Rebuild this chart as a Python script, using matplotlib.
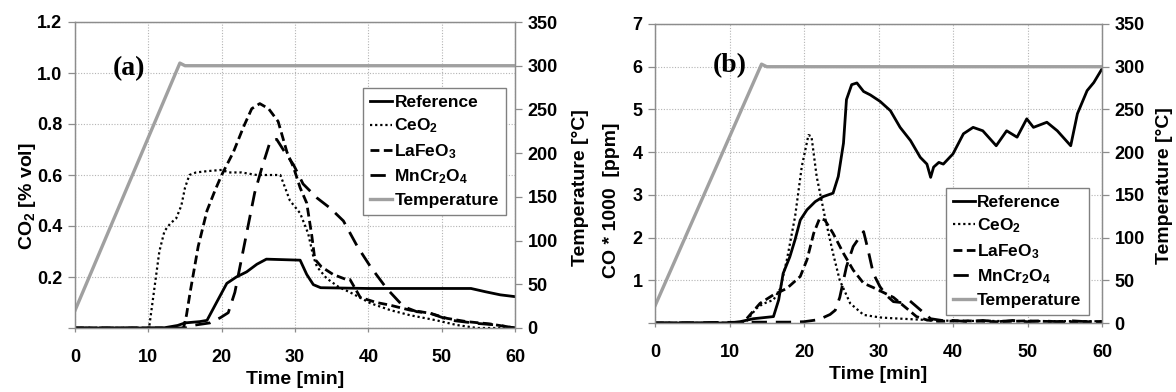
import matplotlib
matplotlib.use("Agg")
import matplotlib.pyplot as plt

plt.rcParams['font.family'] = ['Liberation Sans', 'DejaVu Sans']
plt.rcParams['font.weight'] = 'bold'
plt.rcParams['mathtext.fontset'] = 'custom'
plt.rcParams['mathtext.rm'] = 'Liberation Sans:bold'
plt.rcParams['mathtext.it'] = 'Liberation Sans:bold'
plt.rcParams['mathtext.bf'] = 'Liberation Sans:bold'
plt.rcParams['mathtext.sf'] = 'Liberation Sans:bold'
plt.rcParams['mathtext.default'] = 'rm'

# ---------------- data: panel (a) CO2 [% vol] ----------------
temp_t = [0, 14.3, 15.0, 60]
temp_v = [20, 303, 300, 300]

a_ref_t = [0, 12, 14, 15, 17, 18, 19.3, 20.7, 22, 23.4, 24.8, 26.1, 30.7, 31.6, 32.5, 33.5,
           40, 50, 54, 56, 58, 60]
a_ref_v = [0, 0, 0.01, 0.02, 0.025, 0.03, 0.1, 0.175, 0.2, 0.22, 0.25, 0.27, 0.266, 0.21,
           0.17, 0.158, 0.155, 0.155, 0.155, 0.142, 0.13, 0.123]

a_ceo2_t = [0, 10.1, 10.8, 11.5, 12.2, 13, 13.8, 14.5, 15, 15.6, 16.5, 18, 20, 21, 22.7, 24.8,
            28, 29.3, 30.7, 31.8, 32.5, 33, 34.3, 36, 37.5, 40.3, 43, 45.7, 49.3, 52, 54.8, 60]
a_ceo2_v = [0, 0, 0.15, 0.3, 0.38, 0.41, 0.43, 0.48, 0.55, 0.6, 0.61, 0.615, 0.62, 0.61, 0.61,
            0.6, 0.6, 0.5, 0.45, 0.37, 0.28, 0.24, 0.195, 0.16, 0.14, 0.097, 0.07, 0.05, 0.03,
            0.012, 0, 0]

a_lafe_t = [0, 14.8, 15.2, 15.7, 16.8, 18, 19.1, 20, 21.6, 23, 24.1, 25.2, 26.4, 27.7, 28.9,
            29.8, 30.7, 31.6, 32.3, 32.7, 33.6, 35.2, 37, 37.5, 38.9, 41.1, 42.9, 45.7, 48.4,
            50.7, 53.4, 56.6, 58.9, 60]
a_lafe_v = [0, 0, 0.05, 0.14, 0.32, 0.46, 0.54, 0.6, 0.69, 0.79, 0.86, 0.88, 0.86, 0.81, 0.69,
            0.63, 0.55, 0.49, 0.36, 0.27, 0.24, 0.21, 0.19, 0.19, 0.12, 0.1, 0.09, 0.07, 0.058,
            0.038, 0.025, 0.016, 0.005, 0]

a_mncr_t = [0, 15, 16, 18.4, 19.8, 20.9, 21.8, 22.7, 23.6, 24.5, 25.5, 26.6, 27.5, 28.6, 29.8,
            31.1, 33, 34.8, 36.6, 38.5, 40.3, 42.5, 44.8, 46.6, 48.4, 51.1, 54.8, 57.5, 60]
a_mncr_v = [0, 0, 0.01, 0.02, 0.04, 0.06, 0.14, 0.27, 0.4, 0.53, 0.63, 0.73, 0.74, 0.69, 0.64,
            0.565, 0.51, 0.47, 0.42, 0.32, 0.24, 0.155, 0.084, 0.064, 0.058, 0.031, 0.018,
            0.012, 0]

# ---------------- data: panel (b) CO*1000 [ppm] ----------------
b_ref_t = [0, 10, 11.4, 13.2, 15.9, 16.6, 17.2, 18.1, 18.8, 19.5, 20.4, 21.5, 22.6, 23.9, 24.6,
           25.3, 25.7, 26.4, 27.1, 28, 28.9, 30.2, 31.6, 32.9, 34.3, 35.6, 36.5, 37, 37.4, 38.1,
           38.7, 40, 41.4, 42.7, 44, 45.8, 47.2, 48.6, 49.9, 50.8, 52.6, 54, 55.8, 56.7, 58,
           58.9, 60]
b_ref_v = [0, 0, 0.03, 0.1, 0.15, 0.54, 1.16, 1.55, 1.95, 2.41, 2.65, 2.84, 2.96, 3.04, 3.43,
           4.21, 5.23, 5.58, 5.62, 5.42, 5.34, 5.19, 4.97, 4.58, 4.27, 3.88, 3.72, 3.41, 3.65,
           3.76, 3.72, 3.96, 4.43, 4.58, 4.5, 4.15, 4.5, 4.35, 4.78, 4.58, 4.7, 4.5, 4.15, 4.9,
           5.44, 5.63, 5.95]

b_ceo2_t = [0, 11.5, 12.3, 13.6, 14.5, 15.9, 16.8, 17.7, 18.8, 19.7, 20.6, 21, 21.7, 22.8,
            23.9, 24.8, 26.2, 28, 30.2, 32, 36.5, 40, 60]
b_ceo2_v = [0, 0, 0.05, 0.34, 0.45, 0.54, 0.8, 1.48, 2.49, 3.66, 4.4, 4.37, 3.43, 2.49, 1.63,
            1.0, 0.46, 0.19, 0.13, 0.11, 0.07, 0.05, 0.04]

b_lafe_t = [0, 11.5, 12.3, 14.1, 15.9, 17.7, 19.5, 20.4, 21.3, 22.1, 22.8, 23.9, 25.3, 26.6,
            28, 29.3, 30.6, 32, 33.8, 35.1, 36.5, 38, 42, 46, 50, 54, 60]
b_lafe_v = [0, 0, 0.1, 0.46, 0.66, 0.81, 1.09, 1.48, 2.1, 2.45, 2.41, 2.1, 1.63, 1.24, 0.93,
            0.83, 0.72, 0.6, 0.34, 0.15, 0.07, 0.04, 0.05, 0.03, 0.05, 0.03, 0.03]

b_mncr_t = [0, 13, 18, 20, 22, 23.5, 24.2, 24.8, 25.7, 26.6, 27.5, 28, 28.6, 29.3, 30.2, 31.1,
            32, 33, 34.2, 35, 36, 37, 38.5, 40, 42, 44, 46, 48, 50, 52, 54, 56, 58, 60]
b_mncr_v = [0, 0.02, 0.02, 0.03, 0.08, 0.2, 0.3, 0.6, 1.32, 1.79, 2.02, 2.14, 1.71, 1.16, 0.85,
            0.64, 0.5, 0.48, 0.52, 0.4, 0.25, 0.1, 0.06, 0.06, 0.03, 0.06, 0.03, 0.06, 0.03,
            0.05, 0.03, 0.05, 0.03, 0.03]

x_ticks = [0, 10, 20, 30, 40, 50, 60]
temp_ticks = [0, 50, 100, 150, 200, 250, 300, 350]
a_yticks = [0, 0.2, 0.4, 0.6, 0.8, 1.0, 1.2]
b_yticks = [0, 1, 2, 3, 4, 5, 6, 7]

# ---------------- styling ----------------
W, H = 1176, 392
GRID = '#b4b4b4'
SPINE = '#8c8c8c'
TEMP_C = '#a0a0a0'
TICK_FS = 13
LAB_FS = 14

st_ref = dict(color='black', lw=2.0, ls='-')
st_ceo2 = dict(color='black', lw=1.6, ls=(0, (1, 1.3)))
st_lafe = dict(color='black', lw=2.0, ls=(0, (3.2, 1.6)))
st_mncr = dict(color='black', lw=2.0, ls=(0, (5.5, 3.2)))
st_temp = dict(color=TEMP_C, lw=2.4, ls='-')

fig = plt.figure(figsize=(W / 100, H / 100), dpi=100)


def make_panel(rect, yticks, ylim, yfmt, ylabel, series, label, label_xy, leg_xy,
               ylabel_xy, y2label_x):
    ax = fig.add_axes(rect)
    ax2 = ax.twinx()
    ax.set_xlim(0, 60)
    ax.set_ylim(*ylim)
    ax2.set_ylim(0, 350)
    ax.set_xticks(x_ticks)
    ax.set_yticks(yticks)
    ax.set_yticklabels(['' if v == 0 else yfmt(v) for v in yticks])
    ax2.set_yticks(temp_ticks)
    ax.grid(True, ls=(0, (1, 1.5)), color=GRID, lw=0.8)
    ax.set_axisbelow(True)
    for a in (ax, ax2):
        for s in a.spines.values():
            s.set_color(SPINE)
            s.set_linewidth(0.9)
    ax.tick_params(axis='x', direction='out', length=3, width=0.9, color=SPINE,
                   labelsize=TICK_FS, pad=12)
    ax.tick_params(axis='y', direction='out', length=5, width=0.9, color=SPINE,
                   labelsize=TICK_FS, pad=4)
    ax2.tick_params(axis='y', direction='out', length=5, width=0.9, color=SPINE,
                    labelsize=TICK_FS, pad=4)
    for lab in ax.get_xticklabels() + ax.get_yticklabels() + ax2.get_yticklabels():
        lab.set_fontweight('bold')

    handles = []
    for (t, v, st, name) in series:
        ln, = ax.plot(t, v, label=name, **st)
        handles.append(ln)
    lt, = ax2.plot(temp_t, temp_v, label='Temperature', **st_temp)
    handles.append(lt)

    ax.set_xlabel('Time [min]', fontsize=LAB_FS, fontweight='bold', labelpad=4)
    ax.set_ylabel(ylabel, fontsize=LAB_FS, fontweight='bold')
    ax.yaxis.set_label_coords(*ylabel_xy)
    ax2.set_ylabel('Temperature [°C]', fontsize=LAB_FS, fontweight='bold')
    ax2.yaxis.set_label_coords(y2label_x, 0.46)

    ax.text(label_xy[0], label_xy[1], label, family='Liberation Serif', weight='bold',
            fontsize=20, ha='center', va='center', zorder=5)

    leg = ax2.legend(handles=handles, loc='upper left', bbox_to_anchor=leg_xy,
                     borderaxespad=0, frameon=True, fancybox=False, framealpha=1,
                     edgecolor='#808080', fontsize=12.5, handlelength=1.25,
                     handletextpad=0.15, labelspacing=0.38, borderpad=0.4)
    leg.get_frame().set_linewidth(1.0)
    for txt in leg.get_texts():
        txt.set_fontweight('bold')
    return ax, ax2


series_a = [(a_ref_t, a_ref_v, st_ref, 'Reference'),
            (a_ceo2_t, a_ceo2_v, st_ceo2, 'CeO$_2$'),
            (a_lafe_t, a_lafe_v, st_lafe, 'LaFeO$_3$'),
            (a_mncr_t, a_mncr_v, st_mncr, 'MnCr$_2$O$_4$')]
series_b = [(b_ref_t, b_ref_v, st_ref, 'Reference'),
            (b_ceo2_t, b_ceo2_v, st_ceo2, 'CeO$_2$'),
            (b_lafe_t, b_lafe_v, st_lafe, 'LaFeO$_3$'),
            (b_mncr_t, b_mncr_v, st_mncr, 'MnCr$_2$O$_4$')]

make_panel([75 / W, 1 - 328 / H, 440 / W, 306 / H], a_yticks, (0, 1.2),
           lambda v: f'{v:.1f}', 'CO$_2$ [% vol]', series_a, '(a)', (7.4, 1.017),
           (0.655, 0.784), (-0.085, 0.43), 1.13)
make_panel([655 / W, 1 - 323 / H, 447 / W, 299 / H], b_yticks, (0, 7),
           lambda v: f'{v:d}', 'CO * 1000  [ppm]', series_b, '(b)', (10.1, 6.02),
           (0.651, 0.452), (-0.078, 0.41), 1.12)

fig.savefig('out.png', dpi=100)
